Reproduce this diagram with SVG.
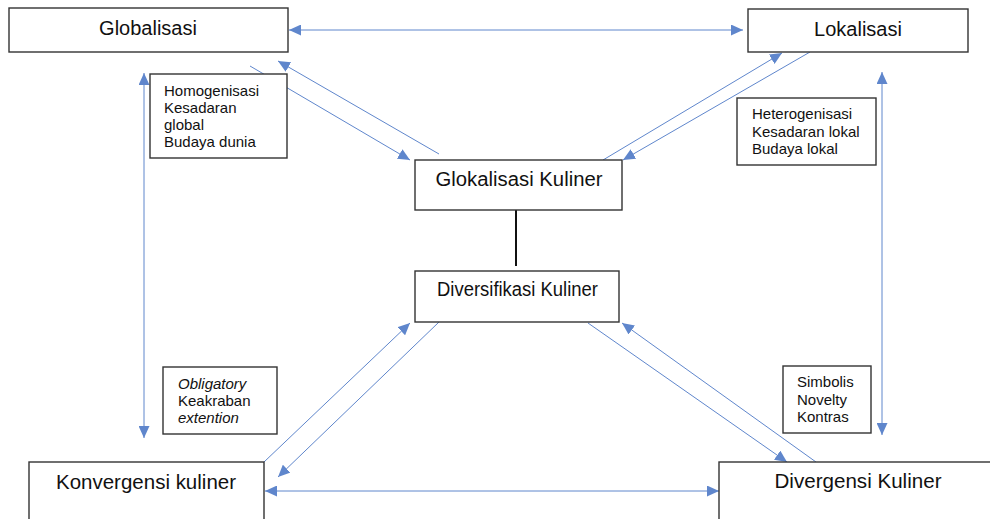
<svg xmlns="http://www.w3.org/2000/svg" width="990" height="519" viewBox="0 0 990 519">
<defs>
<marker id="ah" markerUnits="userSpaceOnUse" markerWidth="13" markerHeight="11" refX="12" refY="5.5" orient="auto-start-reverse">
<path d="M0,0 L12,5.5 L0,11 z" fill="#4472C4"/>
</marker>
<style>
.box{fill:#fff;stroke:#333;stroke-width:1.4}
.t{font-family:"Liberation Sans",Arial,sans-serif;font-size:20px;fill:#111;text-anchor:middle}
.s{font-family:"Liberation Sans",Arial,sans-serif;font-size:15px;fill:#111}
.c{stroke:#4472C4;stroke-width:1;fill:none;opacity:0.85}
</style>
</defs>
<rect width="990" height="519" fill="#fff"/>
<g id="connectors">
<line class="c" x1="289" y1="30" x2="743" y2="30" marker-start="url(#ah)" marker-end="url(#ah)"/>
<line class="c" x1="265" y1="491" x2="719" y2="491" marker-start="url(#ah)" marker-end="url(#ah)"/>
<line class="c" x1="144" y1="73" x2="144" y2="438" marker-start="url(#ah)" marker-end="url(#ah)"/>
<line class="c" x1="882" y1="72" x2="882" y2="435" marker-start="url(#ah)" marker-end="url(#ah)"/>
<line class="c" x1="250" y1="66" x2="410" y2="160" marker-end="url(#ah)"/>
<line class="c" x1="439" y1="154" x2="278" y2="61" marker-end="url(#ah)"/>
<line class="c" x1="603" y1="160" x2="782" y2="53" marker-end="url(#ah)"/>
<line class="c" x1="810" y1="52" x2="623" y2="160" marker-end="url(#ah)"/>
<line class="c" x1="264" y1="462" x2="410" y2="323" marker-end="url(#ah)"/>
<line class="c" x1="439" y1="322" x2="278" y2="477" marker-end="url(#ah)"/>
<line class="c" x1="588" y1="323" x2="787" y2="462" marker-end="url(#ah)"/>
<line class="c" x1="816" y1="462" x2="622" y2="323" marker-end="url(#ah)"/>
<line x1="516" y1="210" x2="516" y2="266" stroke="#111" stroke-width="2"/>
</g>
<g id="globalisasi">
<rect class="box" x="9" y="8" width="279" height="44"/>
<text class="t" x="148" y="35">Globalisasi</text>
</g>
<g id="lokalisasi">
<rect class="box" x="748" y="9" width="220" height="43"/>
<text class="t" x="858" y="36">Lokalisasi</text>
</g>
<g id="homogenisasi">
<rect class="box" x="150" y="74" width="137" height="84"/>
<text class="s" x="164" y="96">Homogenisasi</text>
<text class="s" x="164" y="113">Kesadaran</text>
<text class="s" x="164" y="130">global</text>
<text class="s" x="164" y="147">Budaya dunia</text>
</g>
<g id="heterogenisasi">
<rect class="box" x="737" y="98" width="139" height="67"/>
<text class="s" x="752" y="119">Heterogenisasi</text>
<text class="s" x="752" y="136.5">Kesadaran lokal</text>
<text class="s" x="752" y="154">Budaya lokal</text>
</g>
<g id="glokalisasi">
<rect class="box" x="415" y="160" width="207" height="50"/>
<text class="t" x="519" y="186" textLength="167" lengthAdjust="spacingAndGlyphs">Glokalisasi Kuliner</text>
</g>
<g id="diversifikasi">
<rect class="box" x="415" y="271" width="204" height="51"/>
<text class="t" x="517.5" y="296" textLength="161" lengthAdjust="spacingAndGlyphs">Diversifikasi Kuliner</text>
</g>
<g id="obligatory">
<rect class="box" x="163" y="367" width="114" height="67"/>
<text class="s" x="178" y="389" font-style="italic">Obligatory</text>
<text class="s" x="178" y="406">Keakraban</text>
<text class="s" x="178" y="423" font-style="italic">extention</text>
</g>
<g id="simbolis">
<rect class="box" x="783" y="366" width="88" height="67"/>
<text class="s" x="797" y="387">Simbolis</text>
<text class="s" x="797" y="405">Novelty</text>
<text class="s" x="797" y="422">Kontras</text>
</g>
<g id="konvergensi">
<rect class="box" x="29" y="462" width="235" height="80"/>
<text class="t" x="146" y="489" textLength="180" lengthAdjust="spacingAndGlyphs">Konvergensi kuliner</text>
</g>
<g id="divergensi">
<rect class="box" x="719" y="462" width="300" height="80"/>
<text class="t" x="858" y="488" textLength="167" lengthAdjust="spacingAndGlyphs">Divergensi Kuliner</text>
</g>
</svg>
